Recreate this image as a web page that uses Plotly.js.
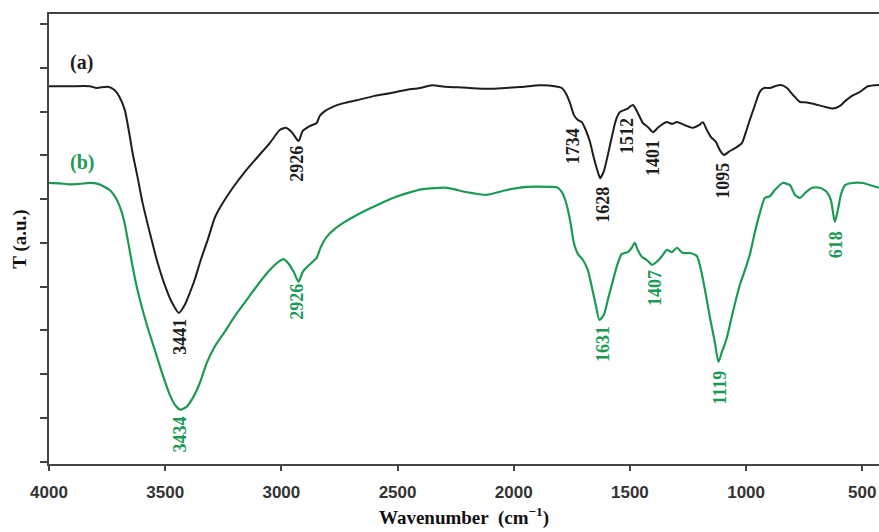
<!DOCTYPE html>
<html>
<head>
<meta charset="utf-8">
<script src="https://cdn.plot.ly/plotly-3.0.1.min.js"></script>
<style>html,body{margin:0;padding:0;background:#fff;}#chart{width:879px;height:532px;}</style>
</head>
<body>
<div id="chart"></div>
<script>
// Sample (a)
const waveA = [4000,3911,3825,3795,3747,3717,3696,3674,3657,3640,3618,3597,3566,3536,3502,3472,3441,3416,3403,3373,3347,3317,3287,3257,3209,3158,3106,3050,3007,2981,2955,2926,2908,2878,2848,2835,2813,2779,2727,2675,2598,2533,2469,2404,2352,2297,2219,2103,2038,1974,1888,1823,1793,1776,1758,1741,1724,1707,1690,1672,1655,1638,1628,1612,1595,1578,1560,1543,1522,1512,1487,1466,1444,1423,1401,1380,1358,1341,1319,1298,1263,1229,1203,1186,1169,1151,1130,1113,1095,1070,1040,1018,1001,984,962,941,923,897,876,850,824,798,768,738,704,661,626,596,574,544,510,476,428];
const transA = [8.58,8.58,8.58,8.54,8.57,8.49,8.33,8.04,7.58,7.05,6.48,5.91,5.23,4.61,4.04,3.65,3.40,3.58,3.74,4.16,4.61,5.07,5.57,5.87,6.26,6.62,6.94,7.28,7.58,7.63,7.53,7.33,7.56,7.67,7.74,7.90,8.01,8.11,8.20,8.26,8.36,8.42,8.49,8.54,8.60,8.57,8.55,8.52,8.54,8.56,8.60,8.58,8.54,8.42,8.20,7.92,7.81,7.76,7.58,7.31,6.94,6.62,6.48,6.64,7.01,7.42,7.81,7.99,8.04,8.06,8.15,7.97,7.74,7.65,7.53,7.63,7.72,7.76,7.72,7.76,7.69,7.63,7.69,7.76,7.58,7.42,7.31,7.12,7.01,7.10,7.19,7.28,7.53,7.81,8.15,8.45,8.54,8.54,8.58,8.61,8.54,8.38,8.22,8.21,8.17,8.11,8.07,8.13,8.24,8.36,8.45,8.58,8.61];

// Sample (b)
const waveB = [4000,3954,3911,3868,3825,3790,3760,3739,3717,3696,3678,3661,3644,3627,3605,3579,3545,3511,3480,3455,3434,3407,3381,3351,3321,3287,3244,3196,3149,3102,3050,3007,2990,2968,2947,2926,2908,2886,2865,2848,2830,2805,2770,2727,2675,2606,2533,2469,2391,2288,2202,2116,2030,1944,1844,1814,1793,1776,1758,1741,1724,1702,1681,1664,1647,1631,1612,1595,1578,1556,1535,1509,1492,1479,1466,1448,1427,1405,1384,1362,1341,1319,1298,1272,1242,1212,1194,1177,1156,1134,1119,1104,1083,1057,1027,1005,984,962,941,919,897,876,842,811,790,768,742,716,682,652,635,618,605,592,574,544,497,454,428];
const transB = [6.37,6.36,6.34,6.35,6.37,6.35,6.28,6.21,6.07,5.84,5.53,5.07,4.57,4.11,3.63,3.13,2.56,1.99,1.53,1.28,1.19,1.26,1.46,1.80,2.26,2.63,2.97,3.36,3.70,4.04,4.38,4.59,4.63,4.52,4.34,4.11,4.34,4.47,4.57,4.66,4.91,5.14,5.32,5.48,5.64,5.82,6.00,6.12,6.23,6.26,6.16,6.10,6.21,6.28,6.28,6.27,6.16,5.94,5.53,5.00,4.75,4.61,4.38,4.00,3.58,3.24,3.36,3.70,4.04,4.47,4.75,4.79,4.89,5.00,4.84,4.68,4.61,4.50,4.57,4.70,4.84,4.79,4.89,4.77,4.77,4.70,4.38,3.93,3.31,2.72,2.28,2.51,2.83,3.42,4.04,4.38,4.73,5.25,5.68,6.03,6.07,6.21,6.37,6.32,6.10,6.03,6.16,6.26,6.26,6.16,5.98,5.48,5.75,6.10,6.32,6.37,6.37,6.30,6.26];

// Peak labels
const peakTextA = ["3441","2926","1734","1628","1512","1401","1095"];
const peakXA = [3437,2934,1745,1616,1513,1401,1100];
const peakYA = [2.85,6.80,7.21,5.87,7.44,6.94,6.42];
const peakTextB = ["3434","2926","1631","1407","1119","618"];
const peakXB = [3437,2934,1616,1392,1113,613];
const peakYB = [0.62,3.65,2.69,3.97,1.69,4.95];

const seriesNames = ["(a)","(b)"];
const seriesLabelX = [3859,3859];
const seriesLabelY = [9.13,6.83];

const yTicks = [0,1,2,3,4,5,6,7,8,9,10];
const xTicks = [4000,3500,3000,2500,2000,1500,1000,500];

const BLACK = "#1e1e1e";
const GREEN = "#1c9a55";
const serif = "Liberation Serif, Times New Roman, serif";
const sans = "Liberation Sans, Arial, sans-serif";

const traces = [
  {x: waveA, y: transA, type: "scatter", mode: "lines", line: {color: BLACK, width: 2, shape: "spline", smoothing: 0.6}, name: seriesNames[0], hoverinfo: "skip"},
  {x: waveB, y: transB, type: "scatter", mode: "lines", line: {color: GREEN, width: 2.2, shape: "spline", smoothing: 0.6}, name: seriesNames[1], hoverinfo: "skip"}
];

const annotations = [];
peakTextA.forEach((t, i) => annotations.push({
  x: peakXA[i], y: peakYA[i], xref: "x", yref: "y", text: t, showarrow: false, textangle: -90,
  font: {family: serif, size: 18, color: BLACK, weight: "bold"}
}));
peakTextB.forEach((t, i) => annotations.push({
  x: peakXB[i], y: peakYB[i], xref: "x", yref: "y", text: t, showarrow: false, textangle: -90,
  font: {family: serif, size: 18, color: GREEN, weight: "bold"}
}));
annotations.push({x: seriesLabelX[0], y: seriesLabelY[0], xref: "x", yref: "y", text: seriesNames[0], showarrow: false,
  font: {family: serif, size: 20, color: BLACK, weight: "bold"}});
annotations.push({x: seriesLabelX[1], y: seriesLabelY[1], xref: "x", yref: "y", text: seriesNames[1], showarrow: false,
  font: {family: serif, size: 20, color: GREEN, weight: "bold"}});

const layout = {
  width: 879, height: 532,
  margin: {l: 49, r: 0, t: 14, b: 68},
  paper_bgcolor: "#fff", plot_bgcolor: "#fff",
  showlegend: false,
  xaxis: {
    range: [4000, 428], tickvals: xTicks, ticktext: xTicks.map(String),
    showgrid: false, zeroline: false, showline: true, mirror: true, linecolor: "#444", linewidth: 2,
    ticks: "outside", ticklen: 5, tickwidth: 2, tickcolor: "#444",
    ticklabelstandoff: 7,
    tickfont: {family: sans, size: 17, color: "#333", weight: "bold"},
    title: {text: "Wavenumber  (cm<sup>−1</sup>)", font: {family: serif, size: 19, color: "#111", weight: "bold"}, standoff: 9}
  },
  yaxis: {
    range: [-0.05, 10.23], tickvals: yTicks, showticklabels: false,
    showgrid: false, zeroline: false, showline: true, mirror: false, linecolor: "#444", linewidth: 2,
    ticks: "outside", ticklen: 7, tickwidth: 2, tickcolor: "#444",
    title: {text: "T (a.u.)", font: {family: serif, size: 19, color: "#111", weight: "bold"}, standoff: 8}
  },
  annotations: annotations
};

Plotly.newPlot("chart", traces, layout, {displayModeBar: false, staticPlot: true});
</script>
</body>
</html>
